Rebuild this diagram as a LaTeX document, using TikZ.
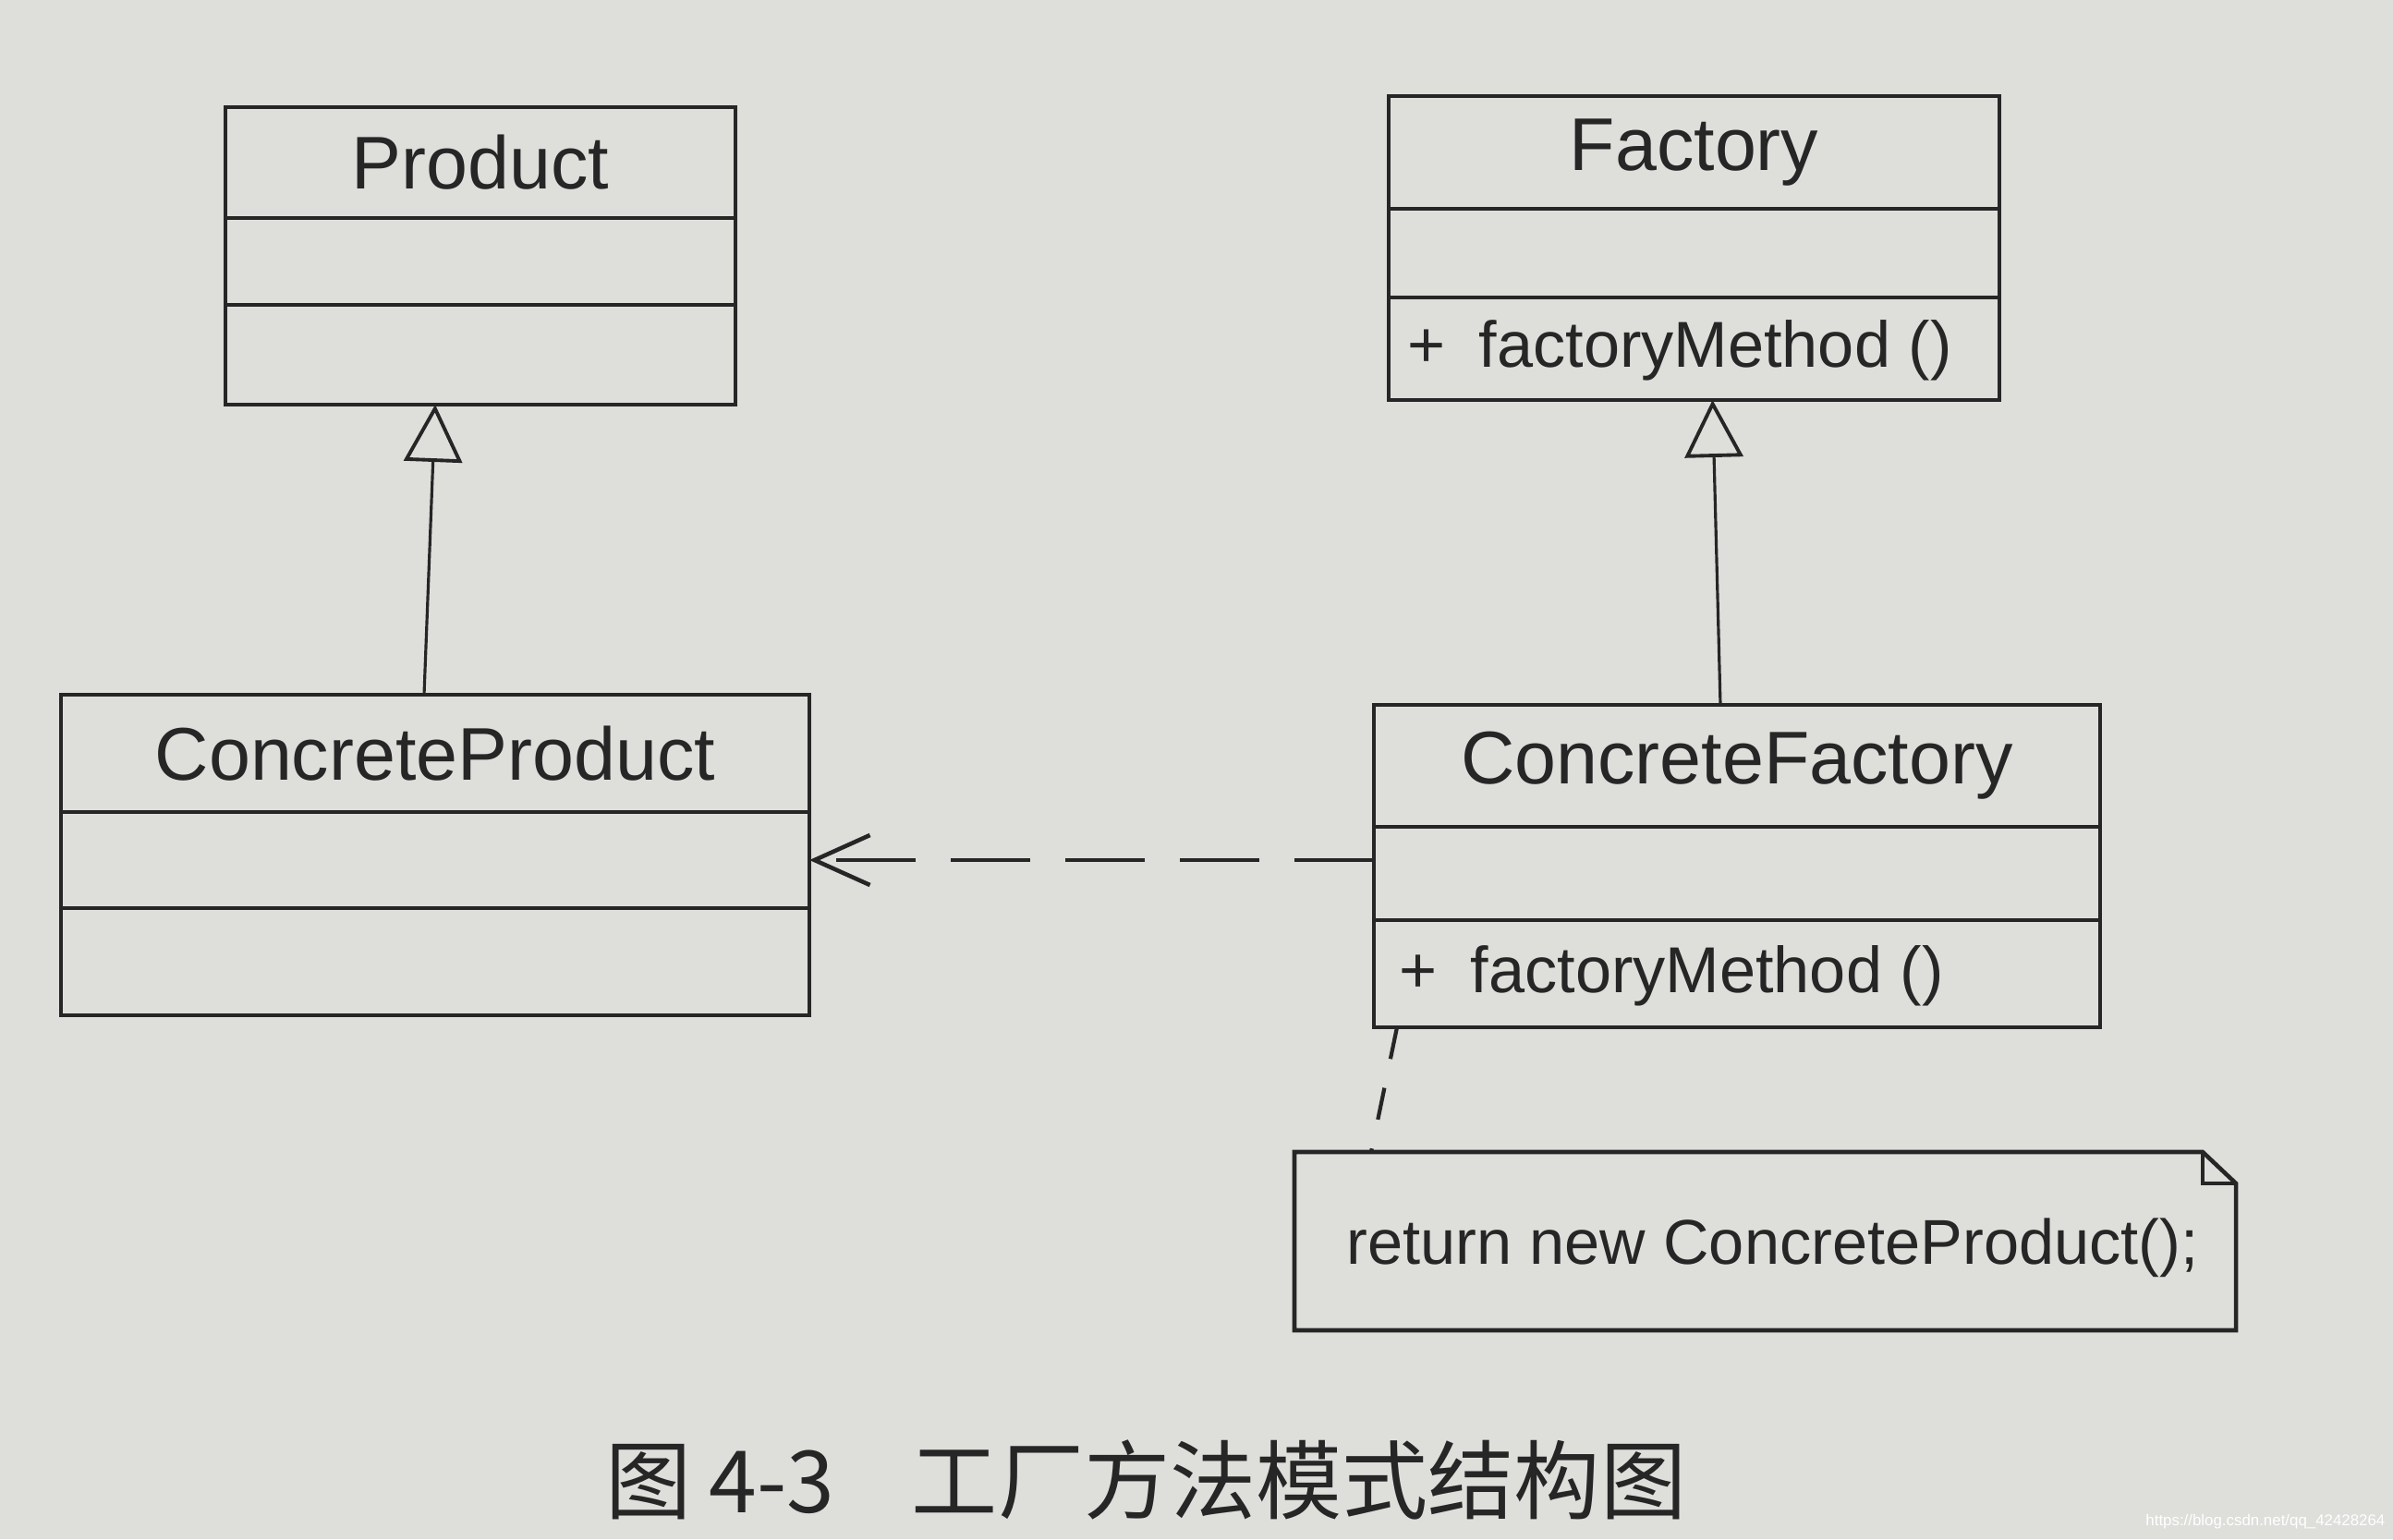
\documentclass[tikz,border=0pt]{standalone}
\usepackage{fontspec}
\setmainfont{Liberation Sans}
\newfontfamily\cjk{Noto Sans CJK SC}
\usetikzlibrary{arrows.meta}
\usetikzlibrary{positioning}
\usetikzlibrary{calc}
\definecolor{paper}{RGB}{222,222,219}
\definecolor{ink}{RGB}{38,38,38}
\tikzset{%
    cls/.style={draw=ink, line width=1.3pt, inner sep=0pt, outer sep=0pt, minimum width=#1, text=ink},
    title/.style={font=\fontsize{23}{27}\selectfont},
    op/.style={anchor=west, inner sep=0pt, text=ink, font=\fontsize{20}{24}\selectfont},
    inh/.style={draw=ink, line width=0.9pt, -{Triangle[open, length=0.62cm, width=0.63cm, line width=1.1pt]}},
    dep/.style={draw=ink, line width=1.2pt, dash pattern=on 0.86cm off 0.38cm, -{Straight Barb[length=0.6cm, width=0.54cm, line width=1.3pt]}},
    anchorline/.style={draw=ink, line width=1.2pt, dash pattern=on 0.35cm off 0.32cm},
}

\begin{document}
\begin{tikzpicture}
\fill[paper] (0,0) rectangle (25.9,-16.66);
\useasboundingbox (0,0) rectangle (25.9,-16.66);
% Product
\node (p1) [cls=5.52cm, minimum height=1.20cm, title] at (5.20,-1.76) {Product};
\node (p2) [cls=5.52cm, minimum height=0.94cm, below=0pt of p1] {};
\node (p3) [cls=5.52cm, minimum height=1.08cm, below=0pt of p2] {};
% ConcreteProduct
\node (cp1) [cls=8.10cm, minimum height=1.27cm, title] at (4.71,-8.155) {ConcreteProduct};
\node (cp2) [cls=8.10cm, minimum height=1.04cm, below=0pt of cp1] {};
\node (cp3) [cls=8.10cm, minimum height=1.16cm, below=0pt of cp2] {};
% Factory
\node (f1) [cls=6.61cm, minimum height=1.22cm, title] at (18.335,-1.65) {Factory};
\node (f2) [cls=6.61cm, minimum height=0.96cm, below=0pt of f1] {};
\node (f3) [cls=6.61cm, minimum height=1.11cm, below=0pt of f2] {};
\node (f3t) [op] at ($(f3.west)+(0.2,-0.02)$) {+\hspace{0.36cm}factoryMethod ()};
% ConcreteFactory
\node (cf1) [cls=7.86cm, minimum height=1.32cm, title] at (18.80,-8.29) {ConcreteFactory};
\node (cf2) [cls=7.86cm, minimum height=1.01cm, below=0pt of cf1] {};
\node (cf3) [cls=7.86cm, minimum height=1.16cm, below=0pt of cf2] {};
\node (cf3t) [op] at ($(cf3.west)+(0.27,-0.02)$) {+\hspace{0.36cm}factoryMethod ()};
% note
\coordinate (nw) at (14.01,-12.47);
\coordinate (se) at (24.20,-14.40);
\draw[draw=ink, line width=1.3pt] (nw) -- ($(se|-nw)+(-0.36,0)$) -- ($(se|-nw)+(0,-0.34)$) -- (se) -- (nw|-se) -- cycle;
\draw[draw=ink, line width=1pt] ($(se|-nw)+(-0.36,0)$) -- ($(se|-nw)+(-0.36,-0.34)$) -- ($(se|-nw)+(0,-0.34)$);
\node (note) [op, font=\fontsize{19.5}{23}\selectfont] at (14.57,-13.51) {return new ConcreteProduct();};
% connectors
\draw[inh] ($(cp1.north)+(-0.12,0)$) -- ($(p3.south)+(-0.49,0)$);
\draw[inh] ($(cf1.north)+(-0.18,0)$) -- ($(f3.south)+(0.20,0)$);
\draw[dep] (cf2.west |- cp2.east) -- (cp2.east);
\draw[anchorline] ($(cf3.south west)+(0.25,0)$) -- ($(nw)+(0.83,0)$);
% caption
\node (cap) [anchor=west, text=ink, inner sep=0pt, font=\cjk\fontsize{26.5}{30}\selectfont] at (6.55,-16.02) {图\hspace{0.2em}4-3\hspace{0.9em}工厂方法模式结构图};
\node (wm) [anchor=east, text=white, inner sep=0pt, font=\fontsize{4.8}{5}\selectfont] at (25.82,-16.47) {https://blog.csdn.net/qq\_42428264};
\end{tikzpicture}
\end{document}
